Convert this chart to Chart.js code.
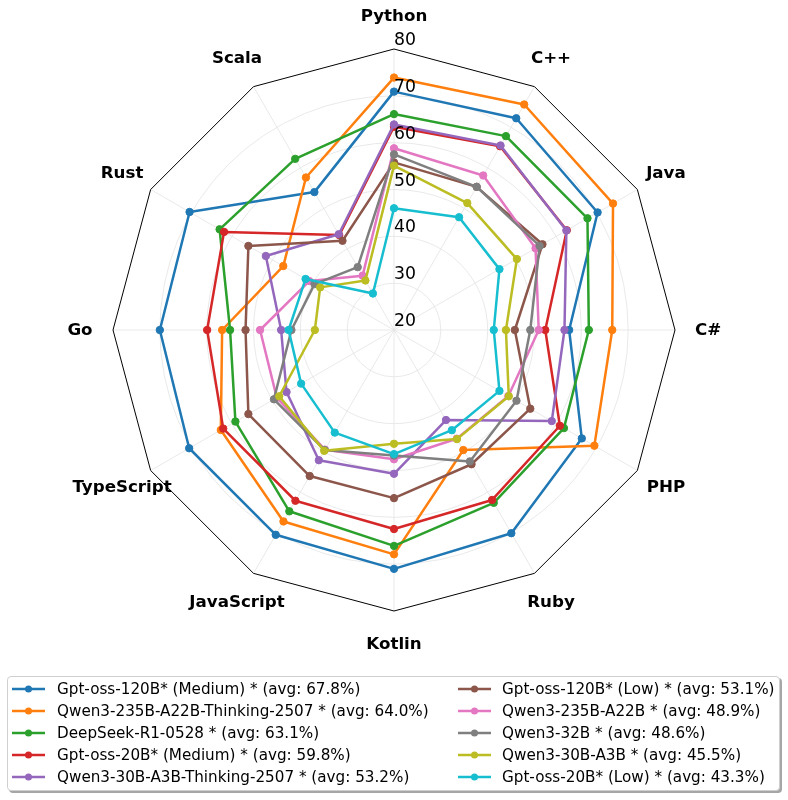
<!DOCTYPE html>
<html>
<head>
<meta charset="utf-8">
<script src="https://cdn.jsdelivr.net/npm/chart.js@4"></script>
<style>
  html, body { margin: 0; padding: 0; background: #fff; }
  #wrap { position: relative; width: 788px; height: 800px; }
  #c { position: absolute; left: 0; top: 0; }
  #legend { position: absolute; left: 7px; top: 676px; width: 773px; height: 115px;
    border: 1px solid #cfcfcf; border-radius: 4px; background: #fff;
    box-shadow: 2px 2px 0 rgba(0,0,0,0.35); box-sizing: border-box; }
  .item { position: absolute; height: 18px; white-space: nowrap;
    font-family: 'DejaVu Sans', sans-serif; font-size: 15.2px; line-height: 18px; color: #000; }
  .sym { position: absolute; }
</style>
</head>
<body>
<div id="wrap">
  <canvas id="c" width="788" height="800"></canvas>
  <div id="legend"></div>
</div>
<script>
const categories = ['Python','C++','Java','C#','PHP','Ruby','Kotlin','JavaScript','TypeScript','Go','Rust','Scala'];
const tickValues = [20, 30, 40, 50, 60, 70, 80];

const gptOss120bMedium   = [70.9, 72.2, 70.2, 57.4, 66.3, 70.1, 71.0, 70.5, 70.5, 70.0, 70.4, 54.0];
const qwen235bThinking   = [73.9, 75.6, 74.0, 66.6, 69.4, 49.6, 67.9, 67.2, 62.7, 56.7, 47.3, 57.6];
const deepSeekR1         = [66.1, 67.8, 67.7, 61.6, 61.9, 62.6, 66.1, 64.7, 59.1, 55.0, 63.0, 62.2];
const gptOss20bMedium    = [63.4, 65.3, 62.6, 52.3, 60.9, 61.9, 62.5, 62.1, 62.1, 59.9, 61.9, 43.4];
const qwen30bThinking    = [63.9, 65.5, 62.5, 56.4, 58.9, 42.2, 50.7, 52.1, 46.5, 44.1, 51.6, 43.6];
const gptOss120bLow      = [55.8, 55.3, 56.6, 45.8, 53.6, 53.1, 55.9, 56.0, 55.9, 51.7, 55.9, 42.0];
const qwen235b           = [58.8, 58.1, 54.9, 50.9, 48.2, 46.8, 47.6, 49.5, 48.9, 48.6, 40.9, 33.4];
const qwen32b            = [57.5, 55.3, 55.9, 49.1, 50.2, 52.4, 46.8, 49.6, 49.6, 41.9, 39.6, 35.5];
const qwen30b            = [55.1, 51.3, 50.3, 43.9, 48.3, 46.9, 44.3, 49.8, 48.3, 36.9, 38.2, 32.2];
const gptOss20bLow       = [46.0, 47.8, 46.0, 41.3, 46.0, 44.7, 46.5, 45.3, 42.9, 42.5, 41.8, 29.0];

const seriesLabels = [
  'Gpt-oss-120B* (Medium) * (avg: 67.8%)',
  'Qwen3-235B-A22B-Thinking-2507 * (avg: 64.0%)',
  'DeepSeek-R1-0528 * (avg: 63.1%)',
  'Gpt-oss-20B* (Medium) * (avg: 59.8%)',
  'Qwen3-30B-A3B-Thinking-2507 * (avg: 53.2%)',
  'Gpt-oss-120B* (Low) * (avg: 53.1%)',
  'Qwen3-235B-A22B * (avg: 48.9%)',
  'Qwen3-32B * (avg: 48.6%)',
  'Qwen3-30B-A3B * (avg: 45.5%)',
  'Gpt-oss-20B* (Low) * (avg: 43.3%)'
];
const seriesValues = [gptOss120bMedium, qwen235bThinking, deepSeekR1, gptOss20bMedium, qwen30bThinking,
  gptOss120bLow, qwen235b, qwen32b, qwen30b, gptOss20bLow];
const seriesColors = ['#1f77b4','#ff7f0e','#2ca02c','#d62728','#9467bd','#8c564b','#e377c2','#7f7f7f','#bcbd22','#17becf'];

const datasets = seriesValues.map((vals, i) => ({
  label: seriesLabels[i],
  data: vals,
  borderColor: seriesColors[i],
  backgroundColor: seriesColors[i],
  pointBackgroundColor: seriesColors[i],
  pointBorderColor: seriesColors[i],
  borderWidth: 2.5,
  pointRadius: 3.7,
  pointBorderWidth: 1,
  fill: false,
  tension: 0,
  order: seriesValues.length - i
}));

const decorPlugin = {
  id: 'decor',
  beforeDatasetsDraw(chart) {
    const s = chart.scales.r;
    const ctx = chart.ctx;
    ctx.save();
    ctx.strokeStyle = '#000';
    ctx.lineWidth = 1;
    ctx.beginPath();
    for (let i = 0; i < categories.length; i++) {
      const p = s.getPointPosition(i, s.drawingArea);
      if (i === 0) ctx.moveTo(p.x, p.y); else ctx.lineTo(p.x, p.y);
    }
    ctx.closePath();
    ctx.stroke();
    ctx.restore();
  },
  afterDatasetsDraw(chart) {
    const s = chart.scales.r;
    const ctx = chart.ctx;
    ctx.save();
    ctx.fillStyle = '#000';
    ctx.font = '17.3px "DejaVu Sans"';
    ctx.textAlign = 'left';
    ctx.textBaseline = 'alphabetic';
    tickValues.forEach(v => {
      const r = s.getDistanceFromCenterForValue(v);
      ctx.fillText(String(v), s.xCenter, s.yCenter - r - 4);
    });
    ctx.font = 'bold 16.7px "DejaVu Sans"';
    ctx.textAlign = 'center';
    ctx.textBaseline = 'middle';
    categories.forEach((c, i) => {
      const p = s.getPointPosition(i, s.drawingArea + 33);
      ctx.fillText(c, p.x, p.y + 1);
    });
    ctx.restore();
  }
};

new Chart(document.getElementById('c'), {
  type: 'radar',
  data: { labels: categories, datasets: datasets },
  options: {
    responsive: false,
    animation: false,
    layout: { padding: { left: 113, right: 113, top: 49, bottom: 189 } },
    plugins: { legend: { display: false }, tooltip: { enabled: false } },
    elements: { line: { borderJoinStyle: 'round' } },
    scales: {
      r: {
        min: 20, max: 80,
        ticks: { stepSize: 10, display: false },
        pointLabels: { display: false },
        grid: {
          circular: true,
          lineWidth: 0.8,
          color: (ctx) => (ctx.tick && ctx.tick.value === 80) ? 'rgba(0,0,0,0)' : '#e3e3e3'
        },
        angleLines: { color: '#e3e3e3', lineWidth: 0.8 }
      }
    }
  },
  plugins: [decorPlugin]
});

// Legend (two columns, column-major like the reference)
const wrap = document.getElementById('wrap');
seriesLabels.forEach((lab, i) => {
  const col = Math.floor(i / 5), row = i % 5;
  const cy = 689 + row * 21.9;
  const symX = [12, 458][col];
  const txtX = [57, 502][col];
  const svgNS = 'http://www.w3.org/2000/svg';
  const svg = document.createElementNS(svgNS, 'svg');
  svg.setAttribute('width', '34'); svg.setAttribute('height', '10');
  svg.setAttribute('class', 'sym');
  svg.style.left = symX + 'px'; svg.style.top = (cy - 5) + 'px';
  const ln = document.createElementNS(svgNS, 'line');
  ln.setAttribute('x1', '0'); ln.setAttribute('y1', '5'); ln.setAttribute('x2', '33'); ln.setAttribute('y2', '5');
  ln.setAttribute('stroke', seriesColors[i]); ln.setAttribute('stroke-width', '2.5');
  const ci = document.createElementNS(svgNS, 'circle');
  ci.setAttribute('cx', '16.5'); ci.setAttribute('cy', '5'); ci.setAttribute('r', '3.5');
  ci.setAttribute('fill', seriesColors[i]);
  svg.appendChild(ln); svg.appendChild(ci);
  wrap.appendChild(svg);
  const d = document.createElement('div');
  d.className = 'item';
  d.style.left = txtX + 'px';
  d.style.top = (cy - 9) + 'px';
  d.textContent = lab;
  wrap.appendChild(d);
});
</script>
</body>
</html>
